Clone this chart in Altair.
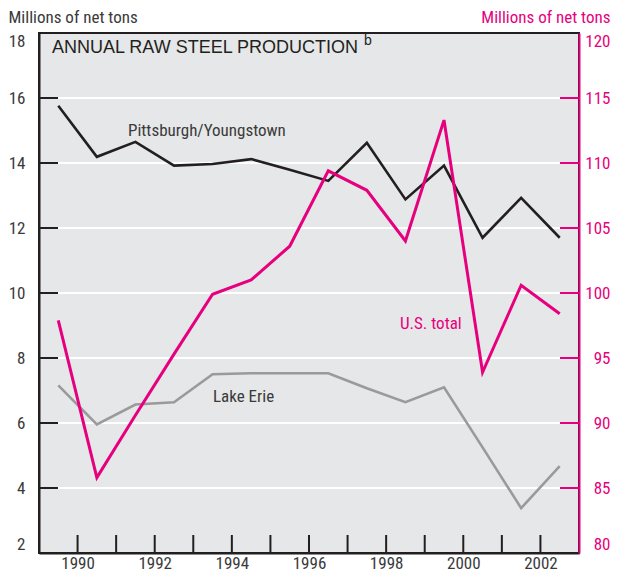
import altair as alt
import pandas as pd

# ---- data ----
years = list(range(1989, 2003))
pittsburgh = [15.76, 14.19, 14.65, 13.92, 13.97, 14.12, 13.79, 13.45, 14.62, 12.88, 13.92, 11.70, 12.93, 11.70]
lake_erie = [7.16, 5.96, 6.57, 6.64, 7.50, 7.53, 7.53, 7.53, 7.07, 6.64, 7.10, 5.25, 3.38, 4.67]
us_total = [97.9, 85.8, 90.6, 95.3, 99.9, 101.0, 103.6, 109.4, 107.9, 104.0, 113.3, 93.9, 100.6, 98.4]

x_tick_years = list(range(1990, 2003))
x_label_years = list(range(1990, 2003, 2))
left_ticks = [2, 4, 6, 8, 10, 12, 14, 16, 18]
right_ticks = [80, 85, 90, 95, 100, 105, 110, 115, 120]

# ---- styling ----
BLACK = "#231f20"
GRAY = "#9a9a9a"
MAGENTA = "#e6007e"
BG = "#e6e7e8"
LABEL = "#3a3a3a"
NARROW = "Liberation Sans Narrow, Arial Narrow, Roboto Condensed, sans-serif"
REG = "Liberation Sans, Arial, Helvetica, sans-serif"
W, H = 540, 520
TOP = 25

left_df = pd.DataFrame({
    "year": years * 2,
    "value": pittsburgh + lake_erie,
    "series": ["Pittsburgh/Youngstown"] * len(years) + ["Lake Erie"] * len(years),
})
us_df = pd.DataFrame({"year": years, "value": us_total})

x_scale = alt.Scale(domain=[1989, 2003], nice=False, zero=False)
yl_scale = alt.Scale(domain=[2, 18], nice=False, zero=False)
yr_scale = alt.Scale(domain=[80, 120], nice=False, zero=False)

x_axis = alt.Axis(
    orient="bottom", values=x_label_years, format="d", ticks=False, tickSize=0,
    grid=False, domain=True, domainColor=BLACK, domainWidth=2, labelPadding=2,
    labelFont=NARROW, labelFontSize=17, labelColor=LABEL, title=None,
)

yl_axis = alt.Axis(
    orient="left", values=left_ticks, ticks=False, tickSize=0, grid=False,
    domain=True, domainColor=BLACK, domainWidth=2, labelFlush=True,
    labelPadding=14, labelFont=NARROW, labelFontSize=17, labelColor=LABEL,
    title="Millions of net tons", titleAngle=0, titleX=-31, titleY=-16,
    titleAlign="left", titleBaseline="middle", titleFont=NARROW,
    titleFontSize=17, titleFontWeight="normal", titleColor=LABEL,
)

yr_axis = alt.Axis(
    orient="right", values=right_ticks, ticks=False, tickSize=0, grid=False,
    domain=True, domainColor=MAGENTA, domainWidth=2, labelFlush=True,
    labelPadding=31, labelAlign="right", labelFont=NARROW, labelFontSize=17,
    labelColor=MAGENTA,
    title="Millions of net tons", titleAngle=0, titleX=31, titleY=-16,
    titleAlign="right", titleBaseline="middle", titleFont=NARROW,
    titleFontSize=17, titleFontWeight="normal", titleColor=MAGENTA,
)

inner_left = pd.DataFrame({"v": left_ticks[1:-1]})
inner_right = pd.DataFrame({"v": right_ticks[1:-1]})

# white gridlines
grid = alt.Chart(inner_left).mark_rule(color="white", strokeWidth=2).encode(
    y=alt.Y("v:Q", scale=yl_scale, axis=None),
    x=alt.value(0), x2=alt.value(W),
)

left_lines = alt.Chart(left_df).mark_line(strokeWidth=2.6, strokeJoin="miter").encode(
    x=alt.X("xpos:Q", scale=x_scale, axis=x_axis),
    y=alt.Y("value:Q", scale=yl_scale, axis=yl_axis),
    color=alt.Color("series:N", scale=alt.Scale(
        domain=["Pittsburgh/Youngstown", "Lake Erie"], range=[BLACK, GRAY]), legend=None),
    detail="series:N",
).transform_calculate(xpos="datum.year + 0.5")

us_line = alt.Chart(us_df).mark_line(color=MAGENTA, strokeWidth=3, strokeJoin="miter").encode(
    x=alt.X("xpos:Q", scale=x_scale, axis=x_axis),
    y=alt.Y("value:Q", scale=yr_scale, axis=yr_axis),
).transform_calculate(xpos="datum.year + 0.5")

left_tick_marks = alt.Chart(inner_left).mark_rule(color=BLACK, strokeWidth=2).encode(
    y=alt.Y("v:Q", scale=yl_scale, axis=None),
    x=alt.value(0), x2=alt.value(19),
)

right_tick_marks = alt.Chart(inner_right).mark_rule(color=MAGENTA, strokeWidth=2).encode(
    y=alt.Y("v:Q", scale=yr_scale, axis=None),
    x=alt.value(W - 19), x2=alt.value(W),
)

bottom_ticks = alt.Chart(pd.DataFrame({"xpos": x_tick_years})).mark_rule(
    color=BLACK, strokeWidth=2).encode(
    x=alt.X("xpos:Q", scale=x_scale, axis=x_axis),
    y=alt.value(H), y2=alt.value(H - 18),
)


def label(text, x, y, color=LABEL, font=NARROW, size=17):
    return alt.Chart(pd.DataFrame({"label": [text]})).mark_text(
        font=font, fontSize=size, color=color, align="left", baseline="middle"
    ).encode(text="label:N", x=alt.value(x), y=alt.value(y))


lbl_pitt = label("Pittsburgh/Youngstown", 89, 98)
lbl_erie = label("Lake Erie", 174, 364)
lbl_us = label("U.S. total", 361, 291, color=MAGENTA)
title_txt = label("ANNUAL RAW STEEL PRODUCTION", 13, 15, color=BLACK, font=REG, size=18)
title_sup = label("b", 325, 8, color=BLACK, font=REG, size=14)

chart = alt.layer(
    grid, left_lines, us_line, left_tick_marks, right_tick_marks, bottom_ticks,
    lbl_pitt, lbl_erie, lbl_us, title_txt, title_sup,
).resolve_scale(
    y="independent"
).properties(
    width=W, height=H,
    padding={"left": 31, "top": TOP, "right": 31, "bottom": 21},
    autosize=alt.AutoSizeParams(type="none"),
).configure_view(
    fill=BG, stroke=BLACK, strokeWidth=2,
)

chart.save("out.html", embed_options={"renderer": "svg", "actions": False})
